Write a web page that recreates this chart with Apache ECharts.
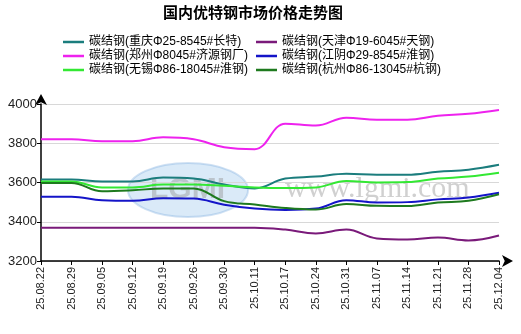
<!DOCTYPE html>
<html><head><meta charset="utf-8">
<script src="https://cdn.jsdelivr.net/npm/echarts@6/dist/echarts.min.js"></script>
<style>html,body{margin:0;padding:0;background:#fff}#c{width:521px;height:334px}</style>
</head><body><div id="c"></div>
<script>
const categories = ['25.08.22','25.08.29','25.09.05','25.09.12','25.09.19','25.09.26','25.09.30','25.10.11','25.10.17','25.10.24','25.10.31','25.11.07','25.11.14','25.11.21','25.11.28','25.12.04'];
const chongqing = [3615,3615,3605,3605,3625,3620,3590,3570,3620,3630,3645,3640,3640,3655,3665,3690];
const tianjin   = [3370,3370,3370,3370,3370,3370,3370,3370,3360,3340,3360,3315,3310,3320,3305,3330];
const zhengzhou = [3820,3820,3810,3810,3830,3820,3780,3770,3900,3890,3930,3920,3920,3940,3950,3970];
const jiangyin  = [3527,3527,3510,3507,3520,3518,3487,3467,3460,3467,3510,3498,3500,3514,3524,3548];
const wuxi      = [3605,3605,3575,3575,3590,3590,3583,3575,3572,3575,3608,3600,3602,3620,3630,3650];
const hangzhou  = [3598,3598,3555,3560,3570,3570,3505,3488,3470,3462,3490,3481,3480,3498,3507,3540];
const seriesNames = ['碳结钢(重庆Φ25-8545#长特)','碳结钢(天津Φ19-6045#天钢)','碳结钢(郑州Φ8045#济源钢厂)','碳结钢(江阴Φ29-8545#淮钢)','碳结钢(无锡Φ86-18045#淮钢)','碳结钢(杭州Φ86-13045#杭钢)'];
const seriesData = [chongqing, tianjin, zhengzhou, jiangyin, wuxi, hangzhou];
const colors = ['#1B7D7D','#7A1A7A','#EE22EE','#1414C8','#33E833','#1E7A1E'];
const yTicks = [3200, 4000, 200];

const chart = echarts.init(document.getElementById('c'), null, {renderer:'canvas'});
const legendIcon = 'path://M0,5 L21,5 L21,7.5 L0,7.5 Z';
const legendCommon = {orient:'vertical', padding:0, itemWidth:21, itemHeight:12, itemGap:2, icon:legendIcon,
  textStyle:{fontSize:12, color:'#000', fontFamily:'"Liberation Sans", "Noto Sans CJK SC", sans-serif'}, selectedMode:false};
chart.setOption({
  animation:false,
  color: colors,
  title:{text:'国内优特钢市场价格走势图', left:163, top:3, padding:[2,0],
    textStyle:{fontSize:15, fontWeight:'bold', color:'#000', fontFamily:'"Noto Sans CJK SC", sans-serif'}},
  legend:[
    Object.assign({left:63, top:36, data:[seriesNames[0], seriesNames[2], seriesNames[4]]}, legendCommon),
    Object.assign({left:256, top:36, data:[seriesNames[1], seriesNames[3], seriesNames[5]]}, legendCommon)
  ],
  graphic:[
    {type:'ellipse', shape:{cx:188, cy:190, rx:60, ry:27}, z:-1, silent:true,
      style:{fill:'rgba(150,195,235,0.35)', stroke:'rgba(120,170,220,0.35)', lineWidth:2}},
    {type:'text', x:150, y:175, z:-1, silent:true,
      style:{text:'LGMI', fontSize:30, fontWeight:'bold', fill:'rgba(150,150,150,0.45)', fontFamily:'Liberation Sans'}},
    {type:'text', x:285, y:174, z:-1, silent:true,
      style:{text:'www.lgmi.com', fontSize:30, fill:'rgba(170,170,170,0.55)', fontFamily:'"Liberation Serif", serif'}}
  ],
  grid:{left:41, right:22, top:104, bottom:73},
  xAxis:{type:'category', data:categories, boundaryGap:false,
    axisLine:{lineStyle:{color:'#000', width:1.5}, symbol:['none','arrow'], symbolSize:[9,11], symbolOffset:[0,14]},
    axisTick:{show:true, alignWithLabel:true, length:4, lineStyle:{color:'#000'}},
    axisLabel:{rotate:90, fontSize:11, color:'#222', margin:6, fontFamily:'"Liberation Sans", Arial, sans-serif', interval:0},
    splitLine:{show:false}},
  yAxis:{type:'value', min:yTicks[0], max:yTicks[1], interval:yTicks[2],
    axisLine:{show:true, lineStyle:{color:'#000', width:1.5}, symbol:['none','arrow'], symbolSize:[9,11], symbolOffset:[0,10]},
    axisTick:{show:true, length:4, lineStyle:{color:'#000'}},
    axisLabel:{fontSize:13, color:'#222', margin:4, fontFamily:'"Liberation Sans", Arial, sans-serif', formatter: v => String(v)},
    splitLine:{lineStyle:{color:'#d8d8d8', width:1}}},
  series: seriesNames.map((n,i)=>({name:n, type:'line', data:seriesData[i], smooth:0.4,
    showSymbol:false, symbol:'none', lineStyle:{width:2, color:colors[i]}, itemStyle:{color:colors[i]}}))
});
</script></body></html>
